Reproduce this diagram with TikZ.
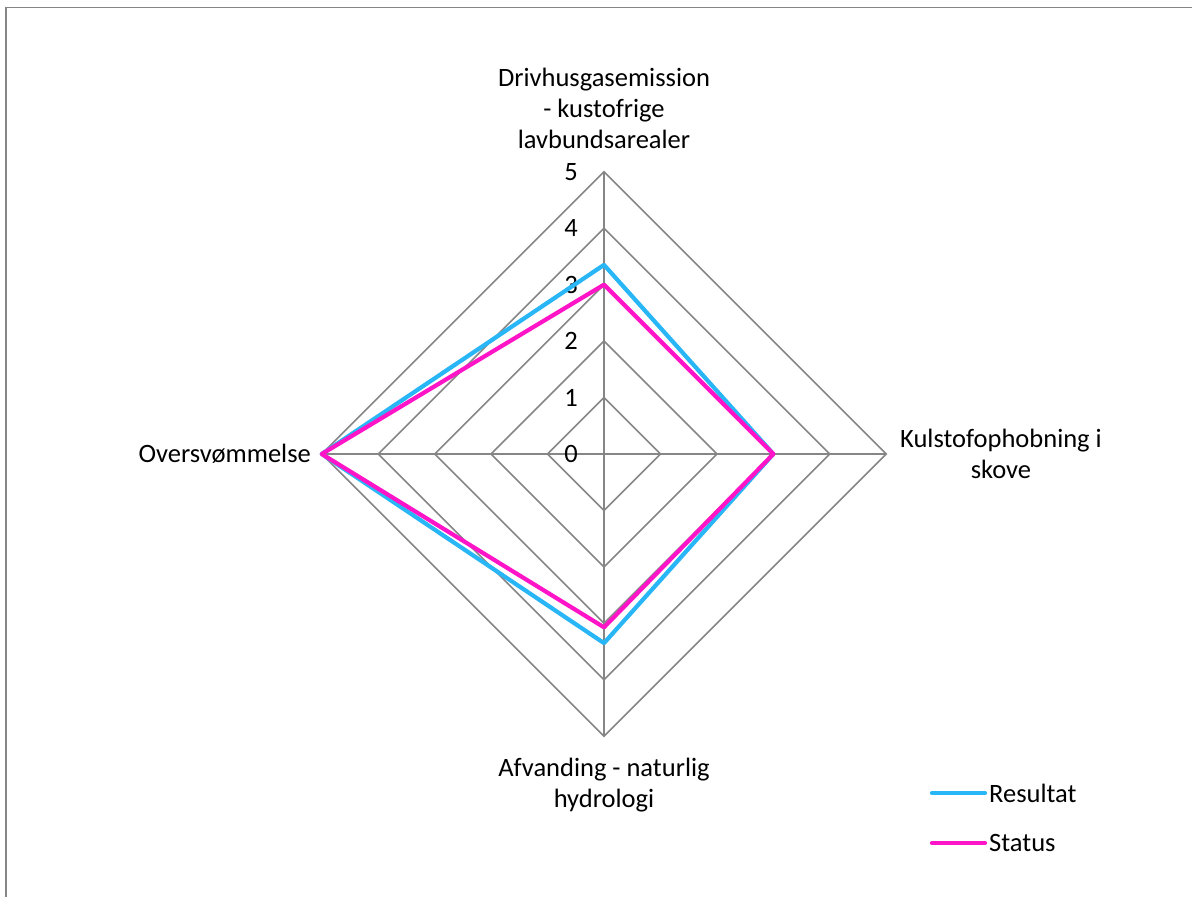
\documentclass[tikz,border=0pt]{standalone}
\usepackage{fontspec}
\setmainfont{Carlito}
\usetikzlibrary{calc}
\definecolor{gridgray}{RGB}{134,134,134}
\definecolor{resc}{RGB}{41,182,246}
\definecolor{statc}{RGB}{255,20,200}
\begin{document}
\begin{tikzpicture}[x=1pt,y=-1pt,
  gridline/.style={draw=gridgray,line width=1.6pt},
  series/.style={line width=4.2pt,line join=round},
  lbl/.style={font=\fontsize{26.5}{31}\selectfont,align=center,inner sep=0pt},
  tick/.style={font=\fontsize{26.5}{31}\selectfont,inner sep=0pt,anchor=east}]
\useasboundingbox (0,0) rectangle (1192,897);
\fill[white] (0,0) rectangle (1192,897);
\draw[gridgray,line width=1.5pt] (6,897) -- (6,7.5) -- (1192,7.5);
\def\u{56.45}
\begin{scope}[shift={(604,454)}]
  \coordinate (O) at (0,0);
  \foreach \k in {1,...,5} {
    \draw[gridline] (0,-\k*\u) -- (\k*\u,0) -- (0,\k*\u) -- (-\k*\u,0) -- cycle;
  }
  \coordinate (T) at (0,-5*\u);
  \coordinate (R) at (5*\u,0);
  \coordinate (B) at (0,5*\u);
  \coordinate (L) at (-5*\u,0);
  \draw[gridline] (O) -- (T);
  \draw[gridline] (O) -- (R);
  \draw[gridline] (O) -- (B);
  \draw[gridline] (O) -- (L);
  \foreach \k in {0,...,5} {
    \node[tick] (t\k) at (-26,-\k*\u) {\k};
  }
  \coordinate (rT) at (0,-3.35*\u);
  \coordinate (rR) at (3*\u,0);
  \coordinate (rB) at (0,3.35*\u);
  \coordinate (rL) at (-5*\u,0);
  \coordinate (sT) at (0,-3*\u);
  \coordinate (sR) at (3*\u,0);
  \coordinate (sB) at (0,3.07*\u);
  \coordinate (sL) at (-5*\u,0);
  \draw[series,resc] (rT) -- (rR) -- (rB) -- (rL) -- cycle;
  \draw[series,statc] (sT) -- (sR) -- (sB) -- (sL) -- cycle;
\end{scope}
\node[lbl] (lt) at (604,108) {Drivhusgasemission\\- kustofrige\\lavbundsarealer};
\node[lbl] (lr) at (1001,454) {Kulstofophobning i\\skove};
\node[lbl,anchor=east] (ll) at (311,454) {Oversvømmelse};
\node[lbl] (lb) at (604,785) {Afvanding - naturlig\\hydrologi};
\coordinate (la1) at (932,793);
\coordinate (lb1) at (985,793);
\coordinate (la2) at (932,843);
\coordinate (lb2) at (985,843);
\draw[series,resc,line cap=round] (la1) -- (lb1);
\draw[series,statc,line cap=round] (la2) -- (lb2);
\node[lbl,anchor=west] (lgr) at (989,793) {Resultat};
\node[lbl,anchor=west] (lgs) at (989,843) {Status};
\end{tikzpicture}
\end{document}
